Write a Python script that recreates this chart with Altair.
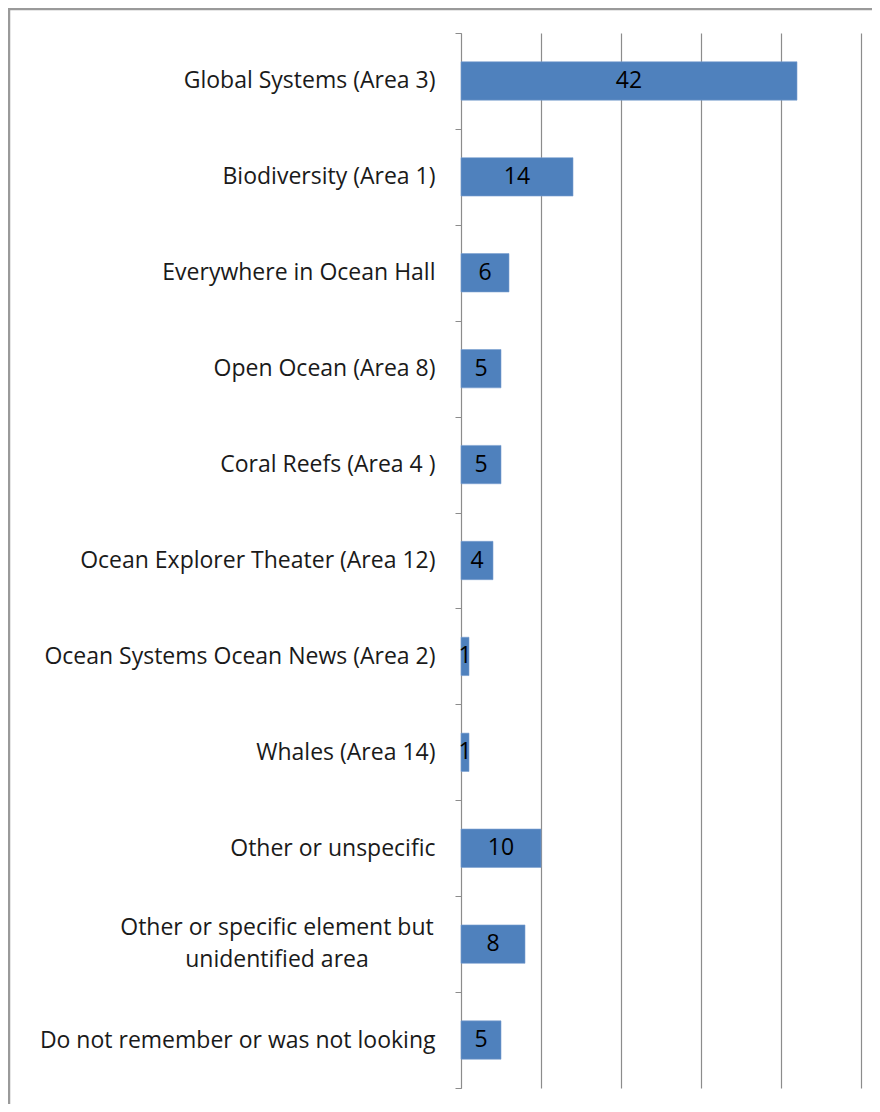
import altair as alt
import pandas as pd

categories = [
    "Global Systems (Area 3)",
    "Biodiversity (Area 1)",
    "Everywhere in Ocean Hall",
    "Open Ocean (Area 8)",
    "Coral Reefs (Area 4 )",
    "Ocean Explorer Theater (Area 12)",
    "Ocean Systems Ocean News (Area 2)",
    "Whales (Area 14)",
    "Other or unspecific",
    "Other or specific element but|unidentified area",
    "Do not remember or was not looking",
]
values = [42, 14, 6, 5, 5, 4, 1, 1, 10, 8, 5]
x_ticks = [0, 10, 20, 30, 40, 50]

df = pd.DataFrame({"cat": categories, "value": values})
MULTI = categories[9]

FONT = "Open Sans"
FS = 23
W, H = 400, 1055

y_enc = alt.Y(
    "cat:N",
    sort=categories,
    scale=alt.Scale(paddingInner=0, paddingOuter=0),
    axis=alt.Axis(
        title=None,
        tickBand="extent",
        tickSize=6,
        tickColor="#8c8c8c",
        domainColor="#8c8c8c",
        labelPadding=20,
        labelFont=FONT,
        labelFontSize=FS,
        labelColor="#1a1a1a",
        labelLimit=500,
        labelExpr=f"datum.value == '{MULTI}' ? '' : datum.value",
    ),
)

x_enc = alt.X(
    "value:Q",
    scale=alt.Scale(domain=[0, 50], nice=False),
    axis=alt.Axis(
        title=None,
        values=x_ticks,
        labels=False,
        ticks=False,
        domain=False,
        grid=True,
        gridColor="#8c8c8c",
        gridWidth=1.2,
    ),
)

base = alt.Chart(df)

bars = base.mark_bar(
    color="#4F81BD", stroke="#7a9fd0", strokeWidth=0.6,
    height=alt.RelativeBandSize(0.4),
).encode(x=x_enc, y=y_enc)

vals = base.transform_calculate(mid="datum.value / 2").mark_text(
    font=FONT, fontSize=FS, color="#000000", align="center", baseline="middle"
).encode(
    x=alt.X("mid:Q"),
    y=alt.Y("cat:N", sort=categories),
    text="value:Q",
)

multi = base.transform_filter(f"datum.cat == '{MULTI}'").transform_calculate(
    lines="split(datum.cat, '|')"
).mark_text(
    font=FONT, fontSize=FS, color="#1a1a1a", align="center", baseline="middle",
    lineHeight=32, dy=-16,
).encode(
    x=alt.value(-184),
    y=alt.Y("cat:N", sort=categories),
    text="lines:N",
)

frame_df = pd.DataFrame({"k": [0]})
frame = alt.Chart(frame_df).mark_rect(fill=None, stroke="#9a9a9a", strokeWidth=2.5).encode(
    x=alt.value(-452), x2=alt.value(W + 40), y=alt.value(-24), y2=alt.value(H + 60)
)

chart = alt.layer(bars, vals, multi, frame).properties(
    width=W,
    height=H,
    autosize=alt.AutoSizeParams(type="none"),
    padding={"left": 453, "top": 25, "right": 11, "bottom": 16},
).configure_view(stroke=None)

chart.save("out.html", embed_options={"renderer": "svg", "actions": False})
